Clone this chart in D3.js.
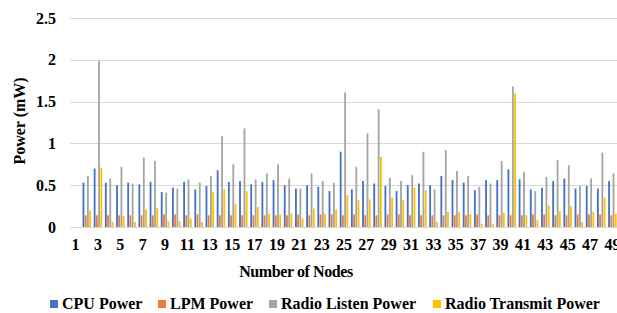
<!DOCTYPE html>
<html>
<head>
<meta charset="utf-8">
<script src="https://cdn.jsdelivr.net/npm/d3@7"></script>
<style>
    body { margin: 0; background: #fff; }
    svg { display: block; font-family: "Liberation Serif", "Times New Roman", serif; font-weight: bold; }
</style>
</head>
<body>
<svg id="chart" width="617" height="313"></svg>
<script>
// node 1 is the sink, no bars
var nodes = d3.range(1, 50);
var seriesNames = ["CPU Power", "LPM Power", "Radio Listen Power", "Radio Transmit Power"];
var seriesColors = ["#4472C4", "#ED7D31", "#A5A5A5", "#FFC000"];

var cpuPower = [0, 0.53, 0.70, 0.53, 0.50, 0.53, 0.51, 0.54, 0.42, 0.47,
    0.54, 0.45, 0.49, 0.68, 0.54, 0.55, 0.51, 0.54, 0.56, 0.50,
    0.46, 0.50, 0.48, 0.43, 0.90, 0.45, 0.55, 0.52, 0.49, 0.43,
    0.50, 0.52, 0.50, 0.61, 0.56, 0.53, 0.44, 0.56, 0.56, 0.69,
    0.57, 0.45, 0.47, 0.55, 0.58, 0.46, 0.49, 0.46, 0.55];
var lpmPower = [0, 0.14, 0.14, 0.14, 0.14, 0.14, 0.14, 0.14, 0.15, 0.15,
    0.14, 0.15, 0.14, 0.14, 0.14, 0.14, 0.14, 0.14, 0.14, 0.14,
    0.15, 0.14, 0.15, 0.15, 0.14, 0.15, 0.14, 0.14, 0.15, 0.15,
    0.14, 0.14, 0.14, 0.14, 0.14, 0.14, 0.15, 0.14, 0.14, 0.14,
    0.14, 0.15, 0.15, 0.14, 0.14, 0.15, 0.15, 0.15, 0.14];
var listenPower = [0, 0.61, 1.99, 0.58, 0.72, 0.52, 0.83, 0.79, 0.41, 0.46,
    0.57, 0.53, 0.61, 1.09, 0.75, 1.18, 0.57, 0.64, 0.75, 0.58,
    0.46, 0.64, 0.55, 0.53, 1.61, 0.72, 1.12, 1.41, 0.59, 0.55,
    0.62, 0.90, 0.45, 0.92, 0.67, 0.61, 0.48, 0.52, 0.79, 1.68,
    0.66, 0.43, 0.60, 0.80, 0.74, 0.49, 0.58, 0.89, 0.64];
var transmitPower = [0, 0.20, 0.71, 0.06, 0.13, 0.06, 0.21, 0.23, 0.07, 0.07,
    0.10, 0.06, 0.42, 0.45, 0.28, 0.43, 0.24, 0.16, 0.15, 0.16,
    0.10, 0.22, 0.16, 0.21, 0.38, 0.32, 0.33, 0.84, 0.35, 0.32,
    0.47, 0.44, 0.06, 0.18, 0.18, 0.15, 0.04, 0.04, 0.17, 1.60,
    0.14, 0.08, 0.26, 0.19, 0.25, 0.06, 0.18, 0.35, 0.16];
var yTicks = [0, 0.5, 1, 1.5, 2, 2.5];
var xTicks = d3.range(1, 50, 2);

var allSeries = [cpuPower, lpmPower, listenPower, transmitPower];

var svg = d3.select("#chart"),
    plotLeft = 70,
    plotRight = 618,
    plotTop = 18,
    plotBottom = 227;

var x = d3.scaleBand().domain(nodes).range([plotLeft, plotRight]).padding(0);
var xInner = d3.scaleBand().domain(d3.range(4)).range([x.bandwidth() * 0.12, x.bandwidth() * 0.88]).paddingInner(0.18);
var y = d3.scaleLinear().domain([0, 2.5]).range([plotBottom, plotTop]);

// gridlines
svg.append("g")
    .selectAll("line")
    .data(yTicks)
    .enter().append("line")
    .attr("x1", plotLeft)
    .attr("x2", 617)
    .attr("y1", function (d) { return Math.round(y(d)) + 0.5; })
    .attr("y2", function (d) { return Math.round(y(d)) + 0.5; })
    .attr("stroke", "#d9d9d9")
    .attr("stroke-width", 1);

// bars
var groups = svg.append("g")
    .selectAll("g")
    .data(nodes)
    .enter().append("g")
    .attr("transform", function (d) { return "translate(" + x(d) + ",0)"; });

groups.selectAll("rect")
    .data(function (d, i) {
        return allSeries.map(function (s, k) { return { k: k, v: s[i] }; });
    })
    .enter().append("rect")
    .attr("x", function (d) { return xInner(d.k); })
    .attr("width", xInner.bandwidth())
    .attr("y", function (d) { return y(d.v); })
    .attr("height", function (d) { return plotBottom - y(d.v); })
    .attr("fill", function (d) { return seriesColors[d.k]; });

// y axis
var yAxis = svg.append("g")
    .attr("transform", "translate(" + (plotLeft - 14) + ",0)")
    .call(d3.axisLeft(y).tickValues(yTicks).tickSize(0).tickPadding(0).tickFormat(d3.format("")));
yAxis.select(".domain").remove();
yAxis.selectAll("text")
    .attr("font-family", "Liberation Serif, Times New Roman, serif")
    .attr("font-weight", "bold")
    .attr("font-size", 16)
    .attr("fill", "#000");

// x axis
var xAxis = svg.append("g")
    .attr("transform", "translate(0," + (plotBottom + 12) + ")")
    .call(d3.axisBottom(x).tickValues(xTicks).tickSize(0).tickPadding(0));
xAxis.select(".domain").remove();
xAxis.selectAll("text")
    .attr("font-family", "Liberation Serif, Times New Roman, serif")
    .attr("font-weight", "bold")
    .attr("font-size", 16)
    .attr("fill", "#000");

// axis titles
svg.append("text")
    .attr("transform", "translate(25,121) rotate(-90)")
    .attr("text-anchor", "middle")
    .attr("font-size", 16)
    .attr("fill", "#000")
    .text("Power (mW)");

svg.append("text")
    .attr("x", 296)
    .attr("y", 277)
    .attr("text-anchor", "middle")
    .attr("font-size", 16)
    .attr("letter-spacing", -0.4)
    .attr("fill", "#000")
    .text("Number of Nodes");

// legend
var legendX = [50, 158, 269, 433];
var legend = svg.append("g")
    .selectAll("g")
    .data(seriesNames)
    .enter().append("g")
    .attr("transform", function (d, i) { return "translate(" + legendX[i] + ",304)"; });

legend.append("rect")
    .attr("x", 0)
    .attr("y", -4)
    .attr("width", 8)
    .attr("height", 8)
    .attr("fill", function (d, i) { return seriesColors[i]; });

legend.append("text")
    .attr("x", 12)
    .attr("y", 5)
    .attr("font-size", 16)
    .attr("fill", "#000")
    .text(function (d) { return d; });
</script>
</body>
</html>
